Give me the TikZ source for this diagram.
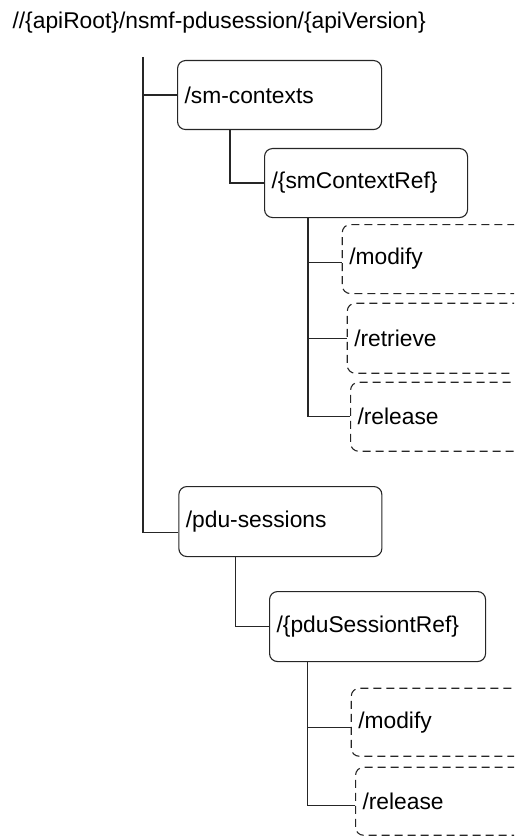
\documentclass[tikz,border=0pt]{standalone}
\usepackage{fontspec}
\setmainfont{Liberation Sans}
\begin{document}
\begin{tikzpicture}[x=1pt,y=-1pt,
  line width=1.1pt,
  linecol/.style={draw=black!85},
  box/.style={linecol, rounded corners=8pt, anchor=north west, minimum height=69pt,
    inner xsep=7pt, inner ysep=2pt, align=left, font=\fontsize{22.8}{27}\selectfont},
  solidbox/.style={box},
  dashbox/.style={box, dash pattern=on 8pt off 5pt},
  conn/.style={linecol, rounded corners=0pt}]
\useasboundingbox (0,0) rectangle (514,837);
\clip (0,0) rectangle (514,837);

\node[anchor=west, inner sep=0pt, font=\fontsize{22.8}{27}\selectfont] (title) at (12,23)
  {//\{apiRoot\}/nsmf-pdusession/\{apiVersion\}};

\coordinate (top) at (143,57);

\node[solidbox, text width=190pt] (sm) at (177,60) {/sm-contexts};
\node[solidbox, text width=189pt] (smref) at (264,148) {/\{smContextRef\}};
\node[dashbox, text width=206pt] (smmod) at (341.7,224) {/modify};
\node[dashbox, text width=206pt, minimum height=70pt] (smret) at (346.7,302.7) {/retrieve};
\node[dashbox, text width=206pt] (smrel) at (350,381.7) {/release};

\node[solidbox, text width=189pt, minimum height=70pt] (pdu) at (178.3,486) {/pdu-sessions};
\node[solidbox, text width=202pt, minimum height=70pt] (pduref) at (269,591) {/\{pduSessiontRef\}};
\node[dashbox, text width=206pt, minimum height=68pt] (pdumod) at (350.7,687.7) {/modify};
\node[dashbox, text width=206pt, minimum height=68pt] (pdurel) at (355,766.7) {/release};

% trunk
\draw[conn] (top) |- ([yshift=-11pt]pdu.west);
\draw[conn] (top |- sm.west) -- (sm.west);

% sm-contexts subtree
\draw[conn] ([xshift=53pt]sm.south west) |- (smref.west);
\draw[conn] ([xshift=44pt]smref.south west) |- (smrel.west);
\draw[conn] ([xshift=44pt]smref.south west |- smmod.west) ++(0,3.5) -- ([yshift=-3.5pt]smmod.west);
\draw[conn] ([xshift=44pt]smref.south west |- smret.west) -- (smret.west);

% pdu-sessions subtree
\draw[conn] ([xshift=57pt]pdu.south west) |- (pduref.west);
\draw[conn] ([xshift=38.7pt]pduref.south west) |- ([yshift=-4pt]pdurel.west);
\draw[conn] ([xshift=38.7pt]pduref.south west |- pdumod.west) ++(0,4.8) -- ([yshift=-4.8pt]pdumod.west);
\end{tikzpicture}
\end{document}
